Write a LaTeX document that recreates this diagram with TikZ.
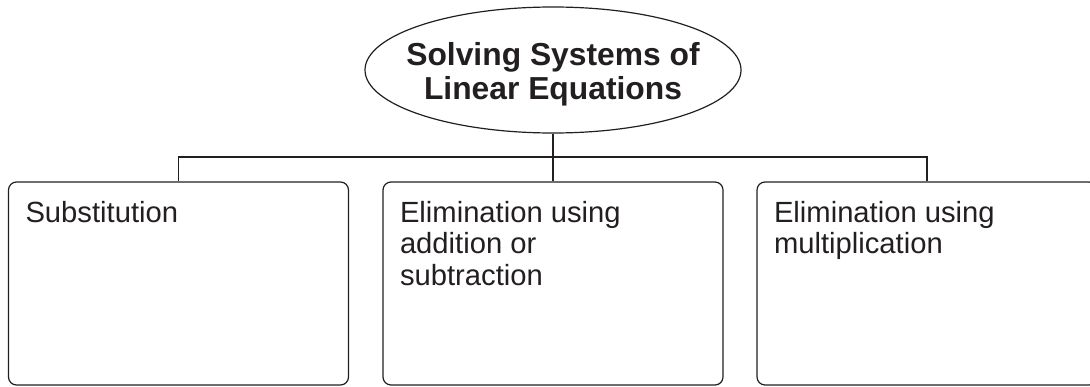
\documentclass[tikz,border=0pt]{standalone}
\usepackage{fontspec}
\setmainfont{Liberation Sans}
\usetikzlibrary{shapes.geometric}
\definecolor{ink}{HTML}{231F20}

\begin{document}
\begin{tikzpicture}[x=0.5pt,y=0.5pt,line width=0.6pt,
	topic/.style={
		ellipse,
		draw=ink,
		minimum width=188pt,
		minimum height=63pt,
		inner sep=0pt
	},
	topictext/.style={
		text=ink,
		font=\bfseries\fontsize{15.9}{17.2}\selectfont,
		align=center,
		inner sep=0pt
	},
	method/.style={
		draw=ink,
		rounded corners=4pt,
		minimum width=170pt,
		minimum height=101.5pt,
		inner sep=0pt
	},
	methodtext/.style={
		text=ink,
		font=\fontsize{14.6}{15.75}\selectfont,
		align=left,
		anchor=north west,
		inner sep=0pt
	}
	]
	\useasboundingbox (0,0) rectangle (1090,386);
	
	\node[topic] (S) at (553,316) {};
	\node[topictext] (St) at ([yshift=-2.25pt]S.center) {Solving Systems of\\Linear Equations};
	
	\node[method] (M-1) at (178.5,102.5) {};
	\node[method] (M-2) at (553,102.5) {};
	\node[method] (M-3) at (927,102.5) {};
	
	\node[methodtext] (M-1-t) at ([shift={(17,-19)}]M-1.north west) {Substitution};
	\node[methodtext] (M-2-t) at ([shift={(17,-19)}]M-2.north west) {Elimination using\\addition or\\subtraction};
	\node[methodtext] (M-3-t) at ([shift={(17,-19)}]M-3.north west) {Elimination using\\multiplication};
	
	\coordinate (bus) at (553,229);
	
	\draw[ink]
	(S.south) -- (M-2.north);
	
	\draw[ink]
	(M-1.north) |- (bus) -| (M-3.north);
\end{tikzpicture}
\end{document}
